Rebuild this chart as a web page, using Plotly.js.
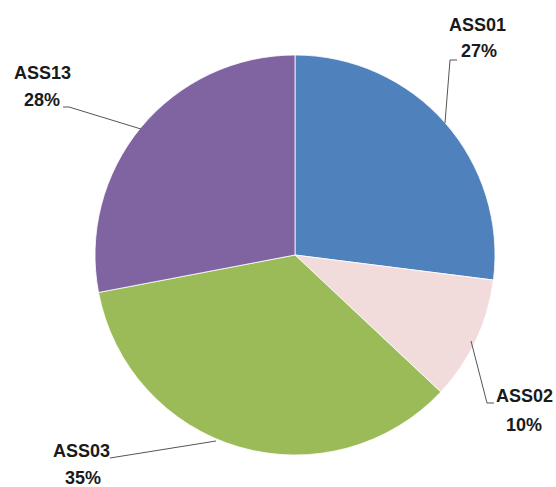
<!DOCTYPE html>
<html>
<head>
<meta charset="utf-8">
<script src="https://cdn.plot.ly/plotly-3.0.1.min.js"></script>
<style>html,body{margin:0;padding:0;background:#fff;}#chart{width:556px;height:487px;}</style>
</head>
<body>
<div id="chart"></div>
<script>
const categories = ["ASS01", "ASS02", "ASS03", "ASS13"];
const values = [27, 10, 35, 28];
const colors = ["#4F81BD", "#F2DCDB", "#9BBB59", "#8064A2"];

const W = 556, H = 487;
function px(x) { return x / W; }
function py(y) { return 1 - y / H; }

// label placement (pixel positions of the name line, percent line)
const labelPos = [
  {nx: 477, ny: 25, px_: 479, py_: 51},
  {nx: 524, ny: 396, px_: 524, py_: 425},
  {nx: 81, ny: 451, px_: 83, py_: 478},
  {nx: 42, ny: 73, px_: 42, py_: 100}
];
const leaders = [
  [[457, 60], [450, 60], [445, 123]],
  [[471, 341], [487, 403], [494, 403]],
  [[110, 458], [216, 441]],
  [[63, 107], [69, 107], [141, 129]]
];

const total = values.reduce((a, b) => a + b, 0);
const annotations = [];
const font = {family: "Liberation Sans, Arial, sans-serif", size: 18, color: "#1a1a1a"};
categories.forEach((c, i) => {
  const p = labelPos[i];
  annotations.push({xref: "paper", yref: "paper", x: px(p.nx), y: py(p.ny), text: "<b>" + c + "</b>",
    showarrow: false, xanchor: "center", yanchor: "middle", font: font});
  annotations.push({xref: "paper", yref: "paper", x: px(p.px_), y: py(p.py_),
    text: "<b>" + Math.round(values[i] / total * 100) + "%</b>",
    showarrow: false, xanchor: "center", yanchor: "middle", font: font});
});
const shapes = leaders.map(pts => ({
  type: "path", xref: "paper", yref: "paper",
  path: pts.map((q, k) => (k ? "L " : "M ") + px(q[0]) + "," + py(q[1])).join(" "),
  line: {color: "#555555", width: 1}
}));

const trace = {
  type: "pie",
  labels: categories,
  values: values,
  sort: false,
  direction: "clockwise",
  rotation: 0,
  textinfo: "none",
  hoverinfo: "label+percent",
  marker: {colors: colors, line: {color: "#ffffff", width: 0.8}},
  domain: {x: [px(95), px(495)], y: [py(455), py(55)]},
  showlegend: false
};

Plotly.newPlot("chart", [trace], {
  width: W, height: H,
  margin: {l: 0, r: 0, t: 0, b: 0},
  paper_bgcolor: "#ffffff",
  showlegend: false,
  annotations: annotations,
  shapes: shapes
}, {displayModeBar: false, staticPlot: true});
</script>
</body>
</html>
